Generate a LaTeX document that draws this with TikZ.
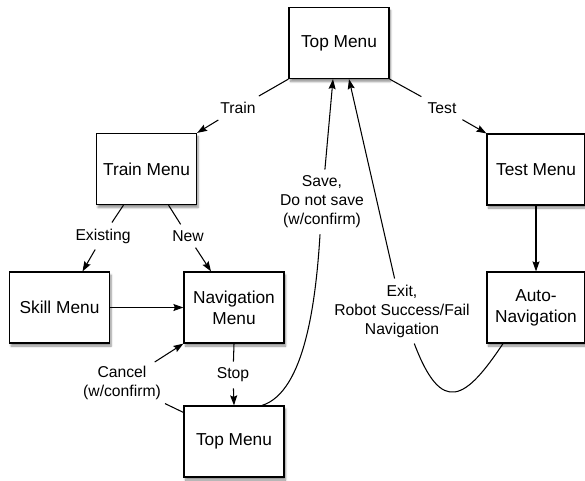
\documentclass[tikz,border=0pt]{standalone}
\usepackage{fontspec}
\setmainfont{Liberation Sans}
\usetikzlibrary{arrows.meta,shadows.blur}
\begin{document}
\begin{tikzpicture}[x=1pt,y=-1pt,
  box/.style={draw,line width=1.2pt,fill=white,minimum width=100pt,minimum height=71pt,
    inner sep=0pt,align=center,font=\fontsize{17.3}{21}\selectfont,
    blur shadow={shadow xshift=1.5pt,shadow yshift=-3pt,shadow blur steps=6,shadow opacity=45}},
  lbl/.style={inner sep=6pt,align=center,font=\fontsize{15.7}{19}\selectfont},
  conn/.style={line width=1.05pt},
  arr/.style={conn,-{Stealth[length=10pt,width=7pt,inset=1.5pt]}}]
\useasboundingbox (0,0) rectangle (585,480);
% boxes
\node[box] (top) at (339,43) {Top Menu};
\node[box] (train) at (146.5,169) {Train Menu};
\node[box,minimum width=98pt] (test) at (536,169.5) {Test Menu};
\node[box] (skill) at (59.5,307.5) {Skill Menu};
\node[box] (nav) at (234,307.5) {Navigation\\Menu};
\node[box,minimum width=98pt] (autonav) at (536,307.5) {Auto-\\Navigation};
\node[box] (bot) at (234,441.5) {Top Menu};
% labels
\node[lbl] (trainl) at (238,108) {Train};
\node[lbl] (testl) at (442,108) {Test};
\node[lbl] (existl) at (103,236) {Existing};
\node[lbl] (newl) at (188,236) {New};
\node[lbl] (stopl) at (233,375) {Stop};
\node[lbl,inner sep=4pt] (cancell) at (122,383) {Cancel\\(w/confirm)};
\node[lbl] (savel) at (322,202) {Save,\\Do not save\\(w/confirm)};
\node[lbl] (exitl) at (402,311) {Exit,\\Robot Success/Fail\\Navigation};
% connectors
\draw[conn] (top.south west) -- (trainl);
\draw[arr] (trainl) -- (train.north east);
\draw[conn] (top.south east) -- (testl);
\draw[arr] (testl) -- (test.north west);
\draw[conn] ([xshift=-23pt]train.south) -- (existl);
\draw[arr] (existl) -- ([xshift=23pt]skill.north);
\draw[conn] ([xshift=22pt]train.south) -- (newl);
\draw[arr] (newl) -- ([xshift=-23pt]nav.north);
\draw[arr] (skill.east) -- (nav.west);
\draw[conn] (nav.south) -- (stopl);
\draw[arr] (stopl) -- (bot.north);
\draw[conn] ([yshift=-7pt]bot.north west) -- (cancell);
\draw[arr] (cancell) -- (nav.south west);
\draw[arr] (test.south) -- (autonav.north);
\draw[conn] ([xshift=28pt]bot.north) .. controls (305,392) and (316,300) .. (savel);
\draw[arr] (savel) -- ([xshift=-6pt]top.south);
\draw[conn] ([xshift=-33pt]autonav.south) .. controls (466,399) and (442,417) .. (exitl);
\draw[arr] (exitl) -- ([xshift=10pt]top.south);
\end{tikzpicture}
\end{document}
